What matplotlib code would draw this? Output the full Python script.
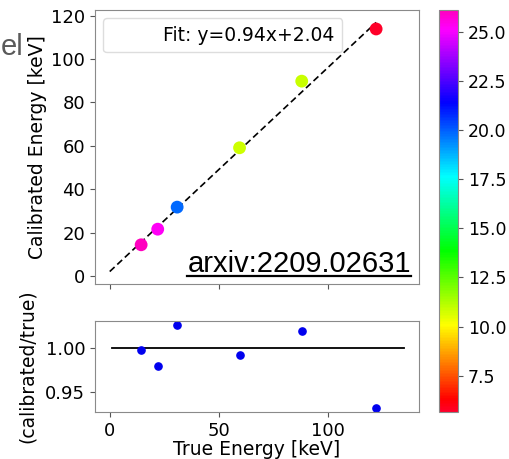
import matplotlib
matplotlib.use("Agg")
import matplotlib.pyplot as plt
import numpy as np
from matplotlib.lines import Line2D

# --- data ---
true_energy = [14.4, 22.0, 30.9, 59.5, 88.0, 122.1]         # keV
calib_energy = [14.37, 21.56, 31.72, 59.07, 89.77, 113.81]  # keV
color_value = [26.1, 25.3, 19.8, 10.8, 10.9, 5.66]
fit_slope, fit_intercept = 0.94, 2.04
ratio_line_x = [1, 135]
ratio_line_y = [1.0, 1.0]

true_energy = np.array(true_energy)
calib_energy = np.array(calib_energy)
ratio = calib_energy / true_energy

W, H = 510, 459
fig = plt.figure(figsize=(W / 100, H / 100), dpi=100)

def px_box(x0, y0, x1, y1):
    return [x0 / W, 1 - y1 / H, (x1 - x0) / W, (y1 - y0) / H]

ax_bot = fig.add_axes(px_box(95, 321, 419, 412))
ax_top = fig.add_axes(px_box(95, 10, 419, 284), sharex=ax_bot)
cax = fig.add_axes(px_box(439, 10, 458, 412))

spine_col = "#8a8a8a"
tick_fs = 13
label_fs = 13.5

# --- top panel ---
fit_x = np.array([0, true_energy.max()])
ax_top.plot(fit_x, fit_slope * fit_x + fit_intercept, "k--", lw=1.2, dashes=(4, 2.2))
sc = ax_top.scatter(true_energy, calib_energy, c=color_value, cmap="gist_rainbow",
                    s=85, zorder=3, edgecolors="none")
handle = Line2D([], [], color="none")
ax_top.legend([handle], [f"Fit: y={fit_slope:.2f}x+{fit_intercept:.2f}"],
              loc="upper left", fontsize=13.5, framealpha=1,
              edgecolor="#dddddd", borderaxespad=0.45)
ax_top.set_ylabel("Calibrated Energy [keV]", fontsize=label_fs, labelpad=3)
ax_top.set_yticks([0, 20, 40, 60, 80, 100, 120])
ax_top.tick_params(labelbottom=False)
arx = ax_top.text(0.975, 0.044, "arxiv:2209.02631", transform=ax_top.transAxes,
                  ha="right", va="baseline", fontsize=21,
                  family="Liberation Sans", color="black")

# --- bottom panel ---
ax_bot.plot(ratio_line_x, ratio_line_y, color="black", lw=1.3)
ax_bot.plot(true_energy, ratio, "o", color="#0000ee", ms=5.2)
ax_bot.set_yticks([0.95, 1.00])
ax_bot.set_yticklabels(["0.95", "1.00"])
ax_bot.set_xticks([0, 50, 100])
ax_bot.set_xlabel("True Energy [keV]", fontsize=label_fs, labelpad=0)
ax_bot.set_ylabel("(calibrated/true)", fontsize=label_fs, labelpad=6)

for ax in (ax_top, ax_bot):
    for sp in ax.spines.values():
        sp.set_color(spine_col)
    ax.tick_params(labelsize=tick_fs, color="#555555", length=3.5)

# --- colorbar ---
cb = fig.colorbar(sc, cax=cax)
cb.set_ticks([7.5, 10.0, 12.5, 15.0, 17.5, 20.0, 22.5, 25.0])
cb.ax.set_yticklabels(["7.5", "10.0", "12.5", "15.0", "17.5", "20.0", "22.5", "25.0"])
cb.ax.tick_params(labelsize=12.5, color="#555555", length=3.5)
cb.outline.set_edgecolor(spine_col)

# cut-off slide title fragment
fig.text(0.5 / W, 1 - 55 / H, "el", ha="left", va="baseline", fontsize=21,
         family="Liberation Sans", color="#5a5a5a")

# underline the arxiv tag
fig.canvas.draw()
bb = arx.get_window_extent(fig.canvas.get_renderer())
uy = (1 - 275.5 / H)
fig.add_artist(Line2D([bb.x0 / W, bb.x1 / W], [uy, uy], transform=fig.transFigure,
                      color="black", lw=1.6))

fig.savefig("out.png", dpi=100)
